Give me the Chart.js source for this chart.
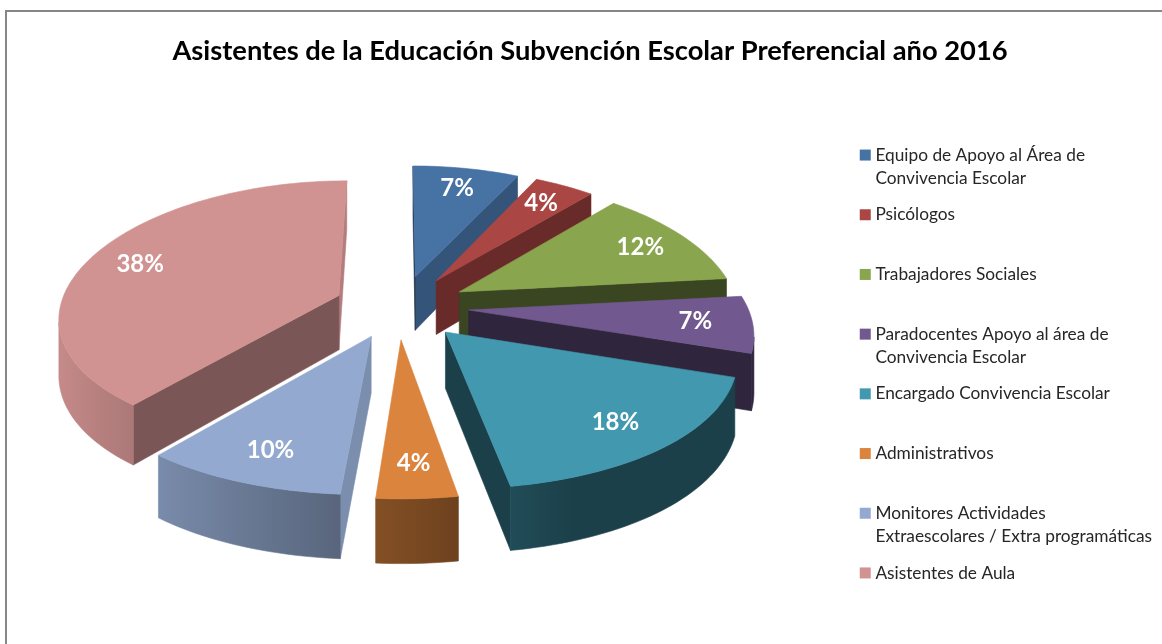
<!doctype html>
<html>

<head>
	<title>Asistentes de la Educación</title>
	<script src="https://cdn.jsdelivr.net/npm/chart.js@4/dist/chart.umd.js"></script>
	<style>
	html, body { margin: 0; background: #fff; overflow: hidden; }
	#frame { position: absolute; left: 5px; top: 10px; width: 1300px; height: 800px; border: 2px solid #868686; }
	canvas { position: absolute; left: 0; top: 0; }
	</style>
</head>

<body>
	<div id="frame"></div>
	<canvas id="canvas" width="1162" height="644"></canvas>
	<script>
		// second entry of each category is the wrapped legend line
		const categories = [
			['Equipo de Apoyo al Área de', 'Convivencia Escolar'],
			['Psicólogos', ''],
			['Trabajadores Sociales', ''],
			['Paradocentes Apoyo al área de', 'Convivencia Escolar'],
			['Encargado Convivencia Escolar', ''],
			['Administrativos', ''],
			['Monitores Actividades', 'Extraescolares / Extra programáticas'],
			['Asistentes de Aula', '']
		];
		const percentages = [7, 4, 12, 7, 18, 4, 10, 38];
		const sliceColors = ['#4672A4', '#AA4643', '#89A54E', '#71588F', '#4198AF', '#DB843D', '#93A9CF', '#D19392'];

		// camera of the fake 3D pie
		const view = { cx: 401, cy: 307, radius: 279, tilt: 0.47, depth: 55, distX: 1800, distY: 2300, labelAt: 0.8 };

		const project = function(x, y, z) {
			const sx = 1 / (1 - y / view.distX);
			const sy = 1 / (1 - y / view.distY);
			return [view.cx + x * sx, view.cy + (y * view.tilt + z) * sy];
		};

		// the view is not square on to the pie, so its rim angles lean a little
		const lean = function(a) {
			const t = a + Math.PI / 2;
			return a + (1.3 * Math.cos(t) + 2.4 * Math.sin(t) - 1.4) * Math.PI / 180;
		};

		const shade = function(hex, f) {
			const n = parseInt(hex.slice(1), 16);
			return 'rgb(' + Math.round((n >> 16) * f) + ',' + Math.round(((n >> 8) & 255) * f) + ',' + Math.round((n & 255) * f) + ')';
		};

		const fillPoly = function(ctx, pts, color) {
			ctx.beginPath();
			pts.forEach((p, i) => i ? ctx.lineTo(p[0], p[1]) : ctx.moveTo(p[0], p[1]));
			ctx.closePath();
			ctx.fillStyle = color;
			ctx.strokeStyle = color;
			ctx.lineWidth = 0.6;
			ctx.fill();
			ctx.stroke();
		};

		const wallShade = (nx) => 0.42 + 0.43 * Math.pow(Math.max(0, nx), 3);
		const rimShade = (nx) => Math.max(0.42, 0.55 - 0.4 * nx);

		const pie3d = {
			id: 'pie3d',
			beforeDatasetsDraw(chart) {
				const ctx = chart.ctx;
				const slices = chart.getDatasetMeta(0).data.map((arc, i) => {
					const scale = view.radius / arc.outerRadius;
					const off = arc.options.offset * scale;
					const mid = (arc.startAngle + arc.endAngle) / 2;
					return {
						i: i,
						start: arc.startAngle,
						end: arc.endAngle,
						mid: mid,
						ax: Math.cos(mid) * off,
						ay: Math.sin(mid) * off,
						color: arc.options.backgroundColor
					};
				});
				slices.sort((a, b) => a.ay - b.ay);
				slices.forEach((s) => {
					const at = (a, r, z) => project(s.ax + Math.cos(lean(a)) * r, s.ay + Math.sin(lean(a)) * r, z);
					const apex = at(0, 0, 0);
					const apexLow = at(0, 0, view.depth);
					const drawWall = function(a, normal) {
						fillPoly(ctx, [apex, at(a, view.radius, 0), at(a, view.radius, view.depth), apexLow], shade(s.color, wallShade(Math.cos(normal))));
					};
					// end wall faces us when its edge runs to the right, start wall when to the left
					if (at(s.end, view.radius, 0)[0] > apex[0]) {
						drawWall(s.end, s.end + Math.PI / 2);
					}
					if (at(s.start, view.radius, 0)[0] < apex[0]) {
						drawWall(s.start, s.start - Math.PI / 2);
					}
					const step = Math.PI / 120;
					const top = [apex];
					const upper = [];
					const lower = [];
					const tones = [];
					for (let a = s.start; a < s.end + step; a += step) {
						const b = Math.min(a, s.end);
						const p = at(b, view.radius, 0);
						const q = at(b + 0.001, view.radius, 0);
						top.push(p);
						if (q[0] < p[0]) {
							upper.push(p);
							lower.push(at(b, view.radius, view.depth));
							tones.push(rimShade(Math.cos(b)));
						}
					}
					// outer rim as one shape, shaded left to right
					if (upper.length > 1) {
						const xs = upper.map((p) => p[0]);
						const x0 = Math.min(...xs);
						const x1 = Math.max(...xs);
						const grad = ctx.createLinearGradient(x0, 0, x1, 0);
						upper.forEach((p, i) => grad.addColorStop((p[0] - x0) / (x1 - x0), shade(s.color, tones[i])));
						fillPoly(ctx, upper.concat(lower.reverse()), grad);
					}
					fillPoly(ctx, top, s.color);
				});
				// percentage labels
				ctx.font = 'bold 24px Lato';
				ctx.textAlign = 'center';
				ctx.textBaseline = 'middle';
				slices.forEach((s) => {
					const r = view.radius * view.labelAt;
					const m = lean(s.mid);
					const p = project(s.ax + Math.cos(m) * r, s.ay + Math.sin(m) * r, 0);
					ctx.fillStyle = '#fff';
					ctx.fillText(percentages[s.i] + '%', p[0], p[1]);
				});
				return false;
			}
		};

		window.onload = function() {
			const ctx = document.getElementById('canvas').getContext('2d');
			window.myPie = new Chart(ctx, {
				type: 'pie',
				data: {
					labels: categories,
					datasets: [{
						data: percentages,
						backgroundColor: sliceColors,
						borderWidth: 0,
						offset: 58,
						hoverOffset: 0
					}]
				},
				plugins: [pie3d],
				options: {
					responsive: false,
					animation: false,
					layout: {
						padding: { left: 18, right: 0, top: 0, bottom: 20 }
					},
					plugins: {
						tooltip: { enabled: false },
						title: {
							display: true,
							text: 'Asistentes de la Educación Subvención Escolar Preferencial año 2016',
							color: '#000',
							font: { family: 'Lato', size: 27.3, weight: 'bold' },
							padding: { top: 35, bottom: 20 }
						},
						legend: {
							position: 'right',
							align: 'end',
							labels: {
								color: '#262626',
								font: { family: 'Lato', size: 17.3, lineHeight: '23px' },
								boxWidth: 3,
								boxHeight: 3,
								padding: 13.7,
								generateLabels(chart) {
									return Chart.overrides.doughnut.plugins.legend.labels.generateLabels(chart).map((item) => ({
										...item,
										strokeStyle: item.fillStyle,
										lineWidth: 8
									}));
								}
							}
						}
					}
				}
			});
		};
	</script>
</body>

</html>
